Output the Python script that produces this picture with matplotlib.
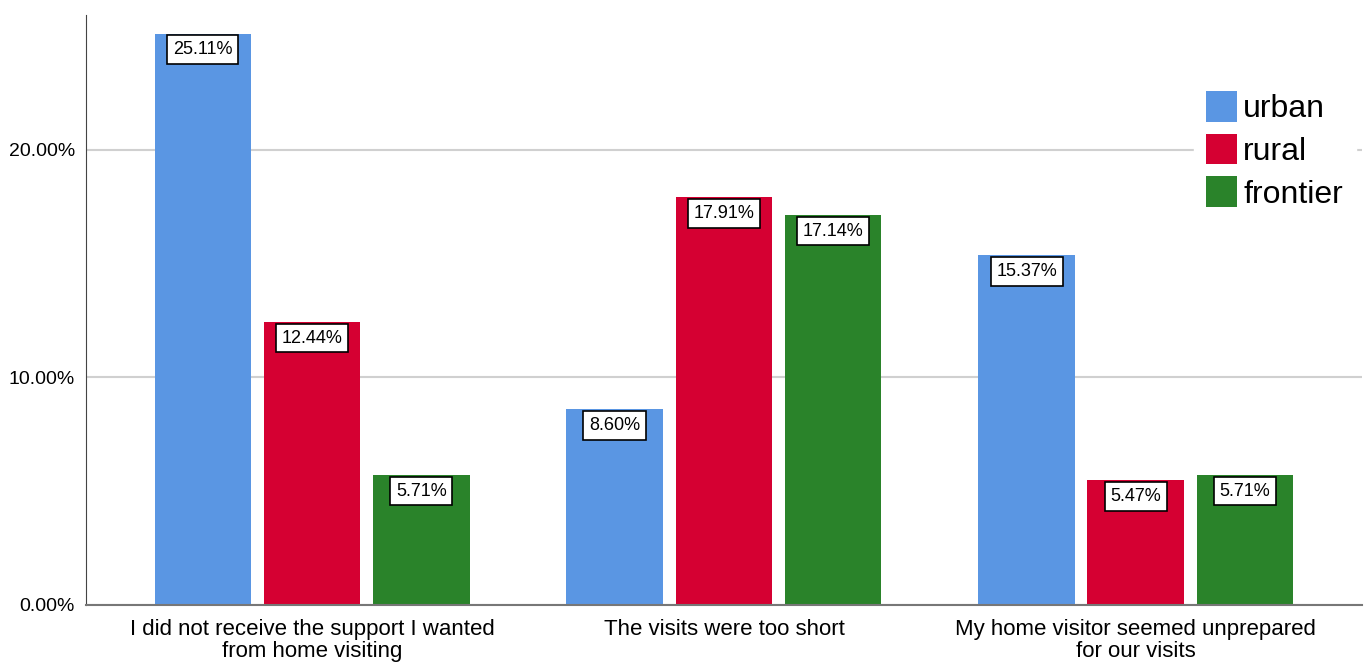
import matplotlib.pyplot as plt
import numpy as np

plt.rcParams['font.family'] = ['Liberation Sans', 'DejaVu Sans']

# Data
categories = ['I did not receive the support I wanted\nfrom home visiting',
              'The visits were too short',
              'My home visitor seemed unprepared\nfor our visits']
groups = ['urban', 'rural', 'frontier']
urban = [25.11, 8.60, 15.37]
rural = [12.44, 17.91, 5.47]
frontier = [5.71, 17.14, 5.71]
colors = ['#5A96E3', '#D50032', '#2A832A']

fig = plt.figure(figsize=(13.64, 6.64), dpi=100)
ax = fig.add_axes([0.063, 0.089, 0.9355, 0.8885])

x = np.arange(len(categories))
width = 0.235
step = 0.265

for i, (vals, name) in enumerate(zip([urban, rural, frontier], groups)):
    pos = x + (i - 1) * step
    ax.bar(pos, vals, width, color=colors[i], label=name, zorder=2)
    for p, v in zip(pos, vals):
        ax.annotate(f'{v:.2f}%', (p, v), textcoords='offset points', xytext=(0, -5.5),
                    ha='center', va='top', fontsize=13, zorder=4,
                    bbox=dict(boxstyle='square,pad=0.32', fc='white', ec='black', lw=1.2))

ax.set_xlim(-0.549, 2.549)
ax.set_ylim(0, 25.93)
ax.set_yticks([0, 10, 20])
ax.set_yticklabels(['0.00%', '10.00%', '20.00%'], fontsize=14)
ax.set_xticks(x)
ax.set_xticklabels(categories, fontsize=16, linespacing=1.05)
ax.tick_params(length=0, pad=8)
ax.tick_params(axis='x', pad=10)
ax.yaxis.grid(True, color='#D0D0D0', lw=1.5, zorder=0)
ax.set_axisbelow(True)

for s in ['top', 'right']:
    ax.spines[s].set_visible(False)
ax.spines['left'].set_color('#444444')
ax.spines['bottom'].set_color('#777777')
ax.spines['bottom'].set_linewidth(1.5)

leg = ax.legend(loc='upper left', bbox_to_anchor=(0.868, 0.893), fontsize=23, frameon=True,
                edgecolor='white', framealpha=1, fancybox=False, handlelength=0.95,
                handleheight=1.1, handletextpad=0.2, labelspacing=0.3, borderaxespad=0)
leg.set_zorder(5)

fig.savefig('out.png', dpi=100)
